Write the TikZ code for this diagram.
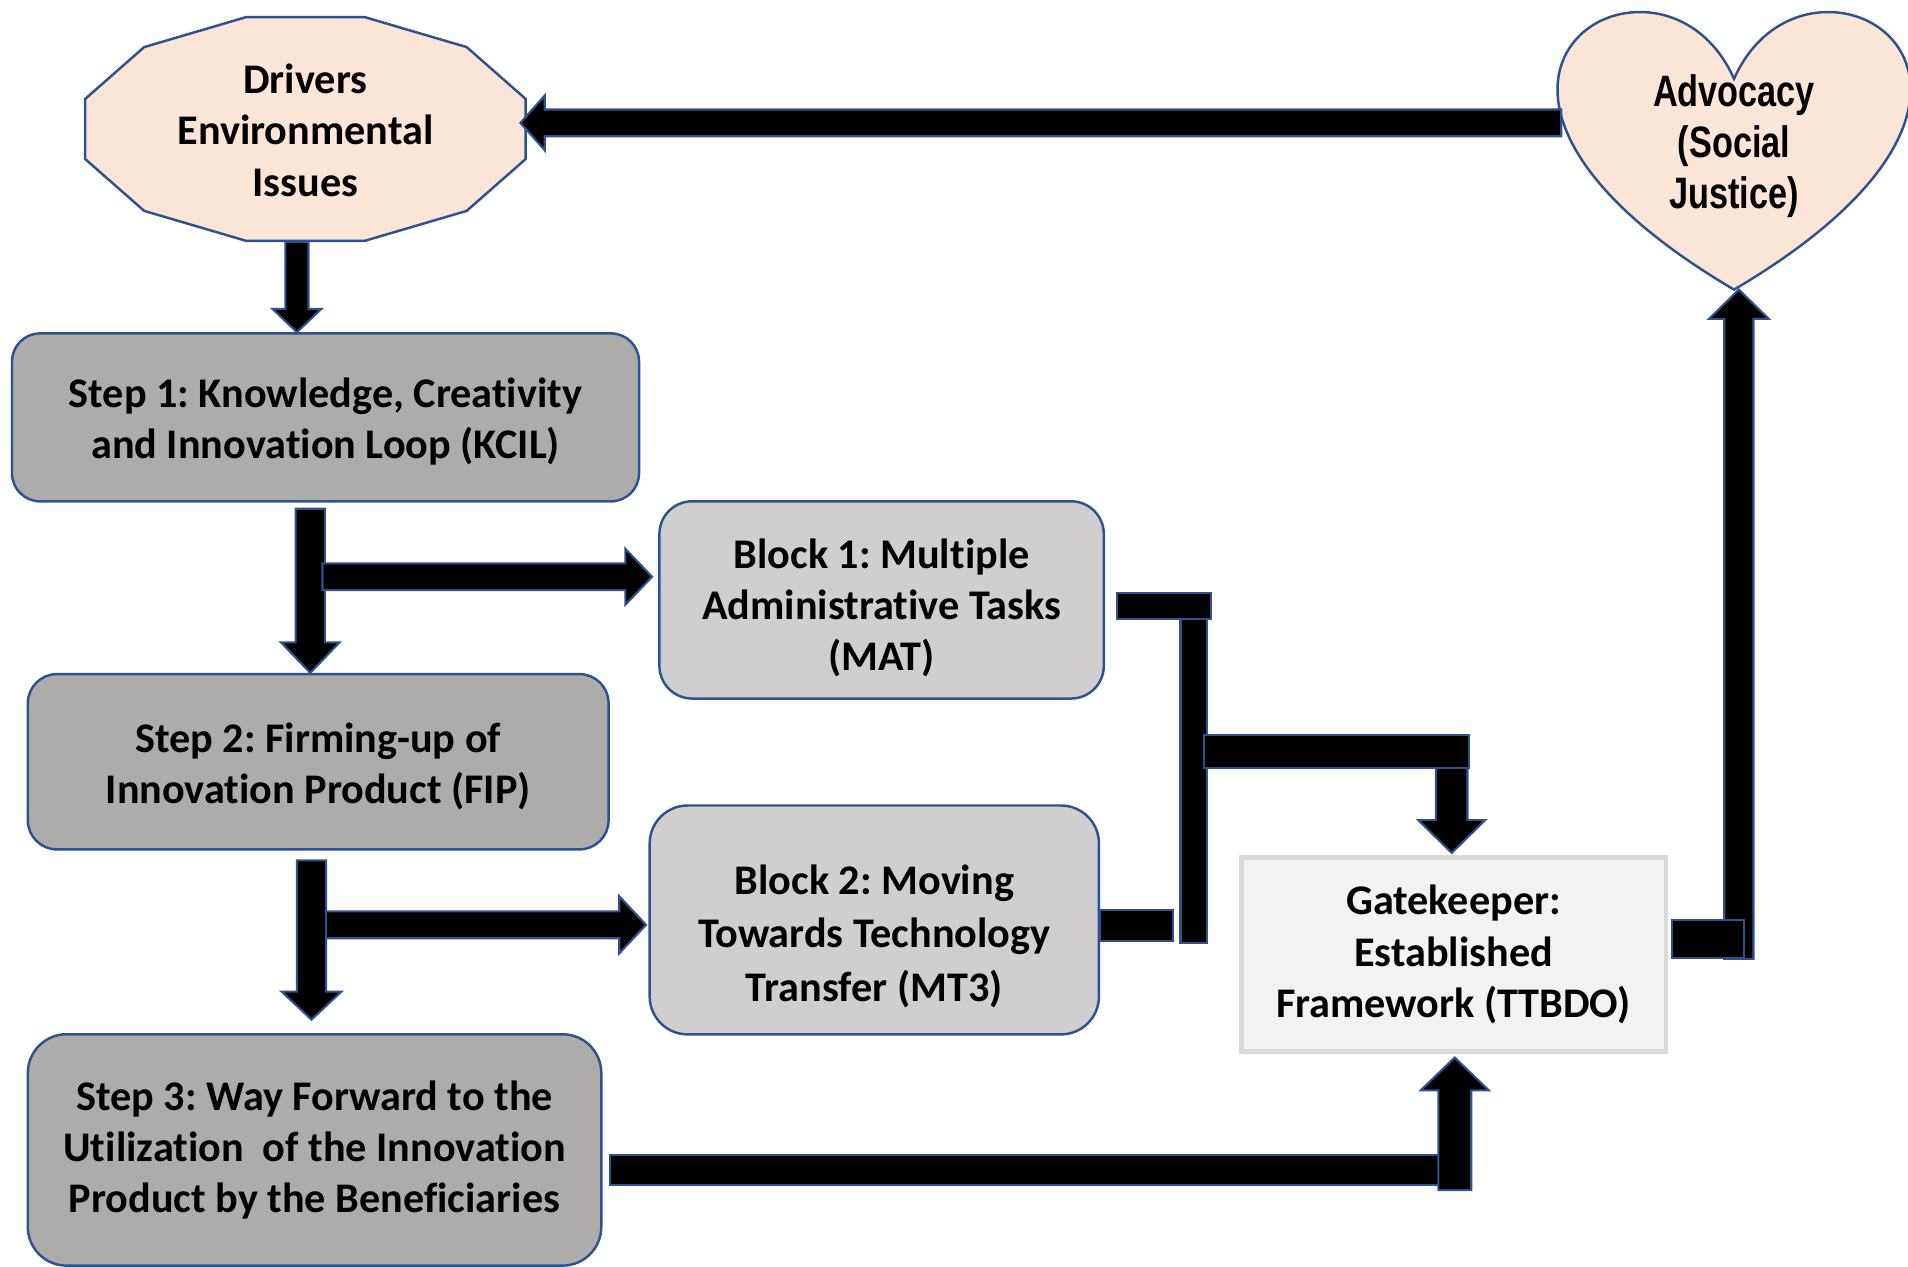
\documentclass[tikz,border=0pt]{standalone}
\usepackage{fontspec}
\setmainfont{Carlito}[Ligatures=CommonOff]
\newfontfamily\advfont[FakeStretch=0.78]{Liberation Sans}
\usetikzlibrary{calc}

\definecolor{peach}{HTML}{FBE5D6}
\definecolor{stepgray}{HTML}{AEABAB}
\definecolor{blockgray}{HTML}{D0CECE}
\definecolor{gatefill}{HTML}{F2F2F2}
\definecolor{gateline}{HTML}{D9D9D9}
\definecolor{edgeblue}{HTML}{2F528F}

% one drawing unit, in pt
\def\pxpt{0.34621}
% invisible strut that sets the top of a text block lower
\newcommand\topstrut[1]{\rule{0pt}{#1}}

\tikzset{
  arrowbody/.style={fill=black, draw=edgeblue, line width=0.6pt, line join=miter},
  boxtext/.style={align=center, inner sep=0pt, text=black,
    font=\fontsize{12}{14.6}\selectfont\bfseries},
  size/.style 2 args={minimum width=#1*\pxpt pt, minimum height=#2*\pxpt pt},
  stepbox/.style={boxtext, draw=edgeblue, line width=0.7pt, fill=stepgray},
  blockbox/.style={boxtext, draw=edgeblue, line width=0.7pt, fill=blockgray},
  gatebox/.style={boxtext, draw=gateline, line width=1.4pt, fill=gatefill},
  shapeline/.style={draw=edgeblue, line width=0.7pt, fill=peach},
}

% block arrow from tail #1 to tip #2; shaft half-width #3, head half-width #4, head length #5 (drawing units)
\newcommand\blockarrow[5]{%
  \pgfmathsetmacro\bsw{#3*\pxpt}%
  \pgfmathsetmacro\bhw{#4*\pxpt}%
  \pgfmathsetmacro\bhl{#5*\pxpt}%
  \coordinate (ba-h) at ($#2!\bhl pt!#1$);
  \filldraw[arrowbody]
    ($#1!\bsw pt!90:#2$) -- ($(ba-h)!\bsw pt!-90:#1$) -- ($(ba-h)!\bhw pt!-90:#1$) -- #2
    -- ($(ba-h)!\bhw pt!90:#1$) -- ($(ba-h)!\bsw pt!90:#1$) -- ($#1!\bsw pt!-90:#2$) -- cycle;
}
% straight bar between #1 and #2 with half-width #3
\newcommand\blockbar[3]{%
  \pgfmathsetmacro\bsw{#3*\pxpt}%
  \filldraw[arrowbody]
    ($#1!\bsw pt!90:#2$) -- ($#2!\bsw pt!-90:#1$) -- ($#2!\bsw pt!90:#1$) -- ($#1!\bsw pt!-90:#2$) -- cycle;
}

\begin{document}
\frenchspacing
\begin{tikzpicture}[x=0.012168cm, y=-0.012168cm]
\useasboundingbox (0,0) rectangle (1568,1041);

% Drivers: twelve-sided outline
\coordinate (drvc) at (251,106);
\filldraw[shapeline, shift={(drvc)}]
  (-48.5,-92) -- (48.5,-92) -- (132.5,-67.3) -- (181,-24.7) -- (181,24.7) -- (132.5,67.3)
  -- (48.5,92) -- (-48.5,92) -- (-132.5,67.3) -- (-181,24.7) -- (-181,-24.7) -- (-132.5,-67.3) -- cycle;
\node[boxtext, size={362}{184}] (drv) at ($(drvc)+(0,1)$) {Drivers\\Environmental\\Issues};

% Advocacy heart
\filldraw[shapeline] (1425,64.75) .. controls (1485,-70) and (1719,64.75) .. (1425,238)
  .. controls (1131,64.75) and (1365,-70) .. (1425,64.75) -- cycle;
\coordinate (hrt-tip) at (1425,238);
\coordinate (hrt-w) at (1283,101);
\node[font=\advfont\bfseries\fontsize{12.5}{14.5}\selectfont, align=center, inner sep=0pt]
  (adv) at (1425,117) {\topstrut{11.2pt}Advocacy\\(Social\\Justice)};

% steps and blocks
\node[stepbox, size={515}{138}, rounded corners=8pt] (s1) at (267.5,343)
  {\topstrut{10.9pt}Step 1: Knowledge, Creativity\\and Innovation Loop (KCIL)};
\node[stepbox, size={477}{144}, rounded corners=8.3pt] (s2) at (261.5,626)
  {\topstrut{10.9pt}Step 2: Firming-up of\\Innovation Product (FIP)};
\node[stepbox, size={471}{190}, rounded corners=11pt] (s3) at (258.5,945)
  {Step 3: Way Forward to the\\Utilization\ \ of the Innovation\\Product by the Beneficiaries};
\node[blockbox, size={365}{162}, rounded corners=9.3pt] (b1) at (724.5,493)
  {\topstrut{13pt}Block 1: Multiple\\Administrative Tasks\\(MAT)};
\node[blockbox, size={369}{188}, rounded corners=10.8pt, font=\fontsize{12}{15.2}\selectfont\bfseries]
  (b2) at (718.5,756)
  {\topstrut{17.6pt}Block 2: Moving\\Towards Technology\\Transfer (MT3)};
\node[gatebox, size={349}{159}] (gate) at (1194.5,784.5)
  {Gatekeeper:\\Established\\Framework (TTBDO)};

% Drivers -> Step 1
\coordinate (aT) at ($(drv.south)+(-7,-1)$);
\coordinate (aP) at (aT |- s1.north);
\blockarrow{(aT)}{(aP)}{9.5}{20}{19}

% Advocacy -> Drivers
\coordinate (bP) at ($(hrt-w -| drv.east)+(-5,0)$);
\blockarrow{(hrt-w)}{(bP)}{11}{22.5}{20}

% Step 1 -> Step 2, branch to Block 1
\coordinate (cT) at ($(s1.south)+(-12.5,5)$);
\coordinate (cP) at (cT |- s2.north);
\blockarrow{(cT)}{(cP)}{12}{24}{25}
\coordinate (cbP) at ($(b1.west)+(-5,-19)$);
\coordinate (cbT) at ($(cbP -| cT)+(10,0)$);
\blockarrow{(cbT)}{(cbP)}{11}{23}{22}

% Step 2 -> Step 3, branch to Block 2
\coordinate (dT) at ($(s2.south)+(-5.5,8)$);
\coordinate (dP) at ($(dT |- s3.north)+(0,-11)$);
\blockarrow{(dT)}{(dP)}{12}{24.5}{23}
\coordinate (dbP) at ($(b2.west)+(-2,4)$);
\coordinate (dbT) at ($(dbP -| dT)+(12,0)$);
\blockarrow{(dbT)}{(dbP)}{11}{23.5}{22}

% Block 1 and Block 2 feed the gatekeeper
\coordinate (e1) at ($(b1.east)+(10,5)$);
\coordinate (e2) at ($(e1)+(77,0)$);
\blockbar{(e1)}{(e2)}{11}
\coordinate (v1) at ($(e1)+(63,11)$);
\coordinate (v2) at ($(v1)+(0,266)$);
\blockbar{(v1)}{(v2)}{11}
\coordinate (gP) at ($(gate.north)+(-1.5,-2)$);
\coordinate (gT) at ($(gP)+(0,-70)$);
\blockarrow{(gT)}{(gP)}{13}{27.5}{27}
\coordinate (j1) at ($(gT -| v1)+(8,-13.5)$);
\coordinate (j2) at ($(gT)+(14,-13.5)$);
\blockbar{(j1)}{(j2)}{13.5}
\coordinate (k1) at ($(b2.east)+(0,4.5)$);
\coordinate (k2) at ($(k1)+(60,0)$);
\blockbar{(k1)}{(k2)}{12.5}

% Gatekeeper -> Advocacy
\coordinate (nT) at ($(hrt-tip |- gate.east)+(4,3.5)$);
\coordinate (nP) at (nT |- hrt-tip);
\blockarrow{(nT)}{(nP)}{12}{24.5}{24}
\coordinate (m1) at ($(gate.east)+(3,-13)$);
\coordinate (m2) at ($(m1 -| nT)+(4,0)$);
\blockbar{(m1)}{(m2)}{15.5}

% Step 3 -> Gatekeeper
\coordinate (qP) at ($(gate.south)+(1,3)$);
\coordinate (qT) at ($(qP)+(0,109)$);
\coordinate (p1) at ($(s3.east)+(6,16.5)$);
\coordinate (p2) at ($(p1 -| qP)+(-12.5,0)$);
\blockbar{(p1)}{(p2)}{12.5}
\blockarrow{(qT)}{(qP)}{13.5}{28}{27}

\end{tikzpicture}
\end{document}
